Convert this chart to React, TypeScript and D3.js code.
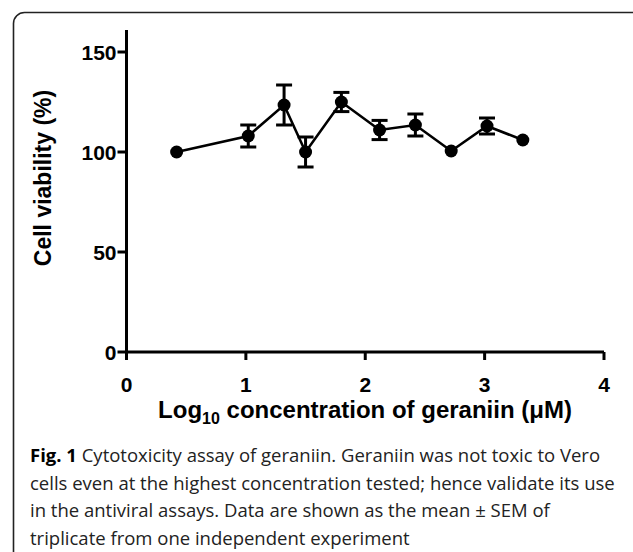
import * as React from "react";
import * as d3 from "d3";

// log10 concentration (uM) and viability (%)
const logConc = [0.42, 1.02, 1.32, 1.5, 1.8, 2.12, 2.42, 2.72, 3.02, 3.32];
const viability = [100, 108, 123.5, 100, 125, 111, 113.5, 100.5, 113, 106];
const sem = [0, 5.5, 10, 7.5, 4.8, 4.8, 5.5, 0, 4, 0];

const xTicks = [0, 1, 2, 3, 4];
const yTicks = [0, 50, 100, 150];

const captionLines = [
    "Cytotoxicity assay of geraniin. Geraniin was not toxic to Vero",
    "cells even at the highest concentration tested; hence validate its use",
    "in the antiviral assays. Data are shown as the mean \u00b1 SEM of",
    "triplicate from one independent experiment"
];

const W = 633;
const H = 552;

export default function App() {
    const x = d3.scaleLinear().domain([0, 4]).range([126.5, 604]);
    const y = d3.scaleLinear().domain([0, 150]).range([352, 52]);

    const points = logConc.map((c, i) => ({ c, v: viability[i], e: sem[i] }));
    const line = d3.line<any>().x(d => x(d.c)).y(d => y(d.v));

    const axisFont = "'Liberation Sans', Arial, sans-serif";
    const captionFont = "'Open Sans', 'Noto Sans', sans-serif";

    return (
        <div style={{ position: "absolute", left: 0, top: 0 }}>
            <svg width={W} height={H} style={{ display: "block", background: "#fff" }}>
                {/* frame */}
                <rect x={13.5} y={12.5} width={630} height={570} rx={11} fill="none" stroke="#222" strokeWidth={1.6} />

                {/* axes */}
                <g stroke="#000" strokeWidth={3} fill="none">
                    <line x1={x(0)} x2={x(0)} y1={30} y2={360} />
                    <line x1={x(0)} x2={x(4)} y1={y(0)} y2={y(0)} />
                    {yTicks.map(t => (
                        <line key={"yt" + t} x1={x(0) - 9} x2={x(0)} y1={y(t)} y2={y(t)} />
                    ))}
                    {xTicks.map(t => (
                        <line key={"xt" + t} x1={x(t)} x2={x(t)} y1={y(0)} y2={y(0) + 8} />
                    ))}
                </g>
                <g fontFamily={axisFont} fontWeight="bold" fontSize={21} fill="#000">
                    {yTicks.map(t => (
                        <text key={"yl" + t} x={x(0) - 10} y={y(t) + 7.5} textAnchor="end">{t}</text>
                    ))}
                    {xTicks.map(t => (
                        <text key={"xl" + t} x={x(t)} y={y(0) + 40} textAnchor="middle">{t}</text>
                    ))}
                </g>

                {/* axis titles */}
                <text x={365} y={418} textAnchor="middle" fontFamily={axisFont} fontWeight="bold" fontSize={24}>
                    Log<tspan fontSize={16} dy={6}>10</tspan><tspan dy={-6}> concentration of geraniin (μM)</tspan>
                </text>
                <text transform="translate(51,178) rotate(-90)" textAnchor="middle" fontFamily={axisFont} fontWeight="bold" fontSize={23}>
                    Cell viability (%)
                </text>

                {/* data line */}
                <path d={line(points) || ""} fill="none" stroke="#000" strokeWidth={2.6} />
                {points.filter(p => p.e > 0).map((p, i) => (
                    <g key={"eb" + i} stroke="#000" strokeWidth={3}>
                        <line x1={x(p.c)} x2={x(p.c)} y1={y(p.v + p.e)} y2={y(p.v - p.e)} />
                        <line x1={x(p.c) - 8} x2={x(p.c) + 8} y1={y(p.v + p.e)} y2={y(p.v + p.e)} />
                        <line x1={x(p.c) - 8} x2={x(p.c) + 8} y1={y(p.v - p.e)} y2={y(p.v - p.e)} />
                    </g>
                ))}
                {points.map((p, i) => (
                    <circle key={"pt" + i} cx={x(p.c)} cy={y(p.v)} r={6.5} fill="#000" />
                ))}

                {/* caption */}
                <g fontFamily={captionFont} fontSize={18.5} fill="#222">
                    {captionLines.map((l, i) => (
                        <text key={"cap" + i} x={30} y={462 + i * 27.5}>
                            {i === 0 ? <tspan fontWeight="bold" fill="#000">Fig. 1 </tspan> : null}
                            {l}
                        </text>
                    ))}
                </g>
            </svg>
        </div>
    );
}
